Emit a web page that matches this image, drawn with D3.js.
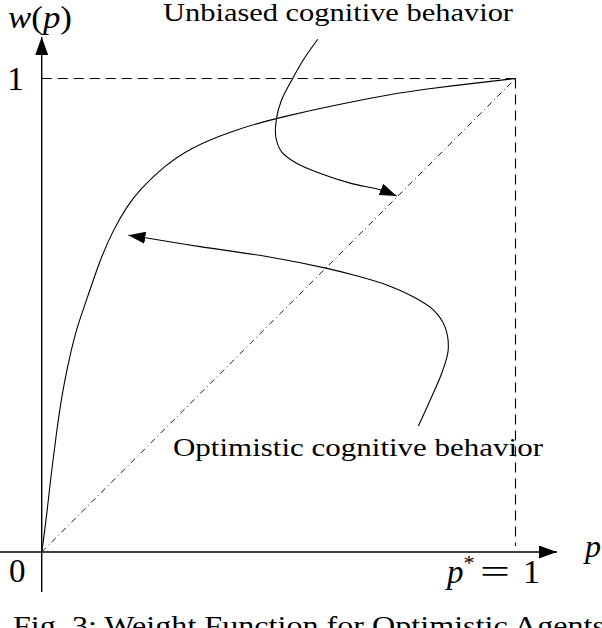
<!DOCTYPE html>
<html>
<head>
<meta charset="utf-8">
<script src="https://cdn.jsdelivr.net/npm/d3@7"></script>
<style>
  body { margin: 0; background: #fff; }
  svg { display: block; }
  text { font-family: "Liberation Serif", "Times New Roman", serif; fill: #000; }
</style>
</head>
<body>
<div id="chart"></div>
<script>
// weight function w(p) for optimistic agents

// curve (p, w)
const curveP = [0, 0.002, 0.011, 0.021, 0.032, 0.042, 0.056, 0.072, 0.102, 0.123, 0.151, 0.179, 0.207, 0.257, 0.313, 0.397, 0.497, 0.714, 0.792, 1];
const curveW = [0, 0.011, 0.082, 0.173, 0.258, 0.328, 0.398, 0.469, 0.553, 0.617, 0.680, 0.729, 0.765, 0.814, 0.853, 0.888, 0.918, 0.963, 0.976, 1];

// annotation arrows, in the same (p, w) units
const unbiasedP = [0.5825, 0.552, 0.528, 0.5065, 0.496, 0.494, 0.5065, 0.538, 0.587, 0.651, 0.714, 0.749];
const unbiasedW = [1.083, 1.039, 0.997, 0.955, 0.918, 0.877, 0.845, 0.821, 0.800, 0.779, 0.765, 0.752];
const optimistP = [0.795, 0.820, 0.844, 0.858, 0.851, 0.827, 0.784, 0.728, 0.658, 0.602, 0.475, 0.334, 0.222, 0.183];
const optimistW = [0.266, 0.321, 0.377, 0.427, 0.476, 0.511, 0.539, 0.564, 0.585, 0.599, 0.624, 0.645, 0.663, 0.669];

const labels = ["Unbiased cognitive behavior", "Optimistic cognitive behavior"];
const caption = "Fig. 3: Weight Function for Optimistic Agents";

const width = 602, height = 628;

const svg = d3.select("#chart").append("svg")
  .attr("width", width)
  .attr("height", height);

const x = d3.scaleLinear().domain([0, 1]).range([41.7, 515.5]);
const y = d3.scaleLinear().domain([0, 1]).range([552, 78.5]);

// arrow heads
const defs = svg.append("defs");
function marker(id, len, wid) {
  defs.append("marker")
    .attr("id", id)
    .attr("viewBox", "0 0 " + len + " " + wid)
    .attr("refX", len)
    .attr("refY", wid / 2)
    .attr("markerWidth", len)
    .attr("markerHeight", wid)
    .attr("markerUnits", "userSpaceOnUse")
    .attr("orient", "auto")
    .append("path")
    .attr("d", "M0,0 L" + len + "," + (wid / 2) + " L0," + wid + " Z")
    .attr("fill", "#000");
}
marker("head", 17, 12);
marker("axishead", 18, 13);

// dashed guides at w = 1 and p = 1
svg.append("line")
  .attr("x1", x(0)).attr("y1", y(1))
  .attr("x2", x(1)).attr("y2", y(1))
  .attr("stroke", "#000").attr("stroke-width", 1.1)
  .attr("stroke-dasharray", "10,6");
svg.append("line")
  .attr("x1", x(1)).attr("y1", y(1))
  .attr("x2", x(1)).attr("y2", y(0) - 6)
  .attr("stroke", "#000").attr("stroke-width", 1.1)
  .attr("stroke-dasharray", "10,6");

// diagonal (unbiased)
svg.append("line")
  .attr("x1", x(0)).attr("y1", y(0))
  .attr("x2", x(1)).attr("y2", y(1))
  .attr("stroke", "#000").attr("stroke-width", 0.9)
  .attr("stroke-dasharray", "6,3.5,1,3.5");

// axes
svg.append("line")
  .attr("x1", 0).attr("y1", y(0))
  .attr("x2", 557).attr("y2", y(0))
  .attr("stroke", "#000").attr("stroke-width", 1.4)
  .attr("marker-end", "url(#axishead)");
svg.append("line")
  .attr("x1", x(0)).attr("y1", 592)
  .attr("x2", x(0)).attr("y2", 37)
  .attr("stroke", "#000").attr("stroke-width", 1.4)
  .attr("marker-end", "url(#axishead)");

// weight curve (smoothed through the read points)
const smooth = d3.line()
  .x(d => x(d[0]))
  .y(d => y(d[1]))
  .curve(d3.curveBasis);

svg.append("path")
  .datum(d3.zip(curveP, curveW))
  .attr("d", smooth)
  .attr("fill", "none")
  .attr("stroke", "#000")
  .attr("stroke-width", 1.1);

// annotation arrows
const line = d3.line()
  .x(d => x(d[0]))
  .y(d => y(d[1]))
  .curve(d3.curveCatmullRom.alpha(0.5));

[[unbiasedP, unbiasedW], [optimistP, optimistW]].forEach(function(a) {
  svg.append("path")
    .datum(d3.zip(a[0], a[1]))
    .attr("d", line)
    .attr("fill", "none")
    .attr("stroke", "#000")
    .attr("stroke-width", 1.1)
    .attr("marker-end", "url(#head)");
});

// annotation text
svg.append("text")
  .attr("x", 163).attr("y", 21)
  .attr("font-size", 26)
  .attr("textLength", 350).attr("lengthAdjust", "spacingAndGlyphs")
  .text(labels[0]);
svg.append("text")
  .attr("x", 173).attr("y", 456)
  .attr("font-size", 26)
  .attr("textLength", 370).attr("lengthAdjust", "spacingAndGlyphs")
  .text(labels[1]);

// axis labels
const wlab = svg.append("text")
  .attr("x", 8).attr("y", 28)
  .attr("font-size", 32)
  .attr("textLength", 64).attr("lengthAdjust", "spacingAndGlyphs");
wlab.append("tspan").attr("font-style", "italic").text("w");
wlab.append("tspan").text("(");
wlab.append("tspan").attr("font-style", "italic").text("p");
wlab.append("tspan").text(")");

svg.append("text")
  .attr("x", 7).attr("y", y(1) + 11)
  .attr("font-size", 34)
  .text("1");

svg.append("text")
  .attr("x", 9).attr("y", 582)
  .attr("font-size", 33)
  .text("0");

svg.append("text")
  .attr("x", 585).attr("y", 557)
  .attr("font-size", 32)
  .attr("font-style", "italic")
  .text("p");

// p* = 1
const plab = svg.append("text")
  .attr("x", 447).attr("y", 583)
  .attr("font-size", 33);
plab.append("tspan").attr("font-style", "italic").text("p");
plab.append("tspan").attr("font-size", 22).attr("dy", -13).text("*");
svg.append("text")
  .attr("x", 480).attr("y", 583)
  .attr("font-size", 33)
  .attr("textLength", 30).attr("lengthAdjust", "spacingAndGlyphs")
  .text("=");
svg.append("text")
  .attr("x", 523).attr("y", 583)
  .attr("font-size", 34)
  .text("1");

// caption, cut by the bottom edge
svg.append("text")
  .attr("x", 13).attr("y", 635)
  .attr("font-size", 27)
  .attr("textLength", 592).attr("lengthAdjust", "spacingAndGlyphs")
  .text(caption);
</script>
</body>
</html>
